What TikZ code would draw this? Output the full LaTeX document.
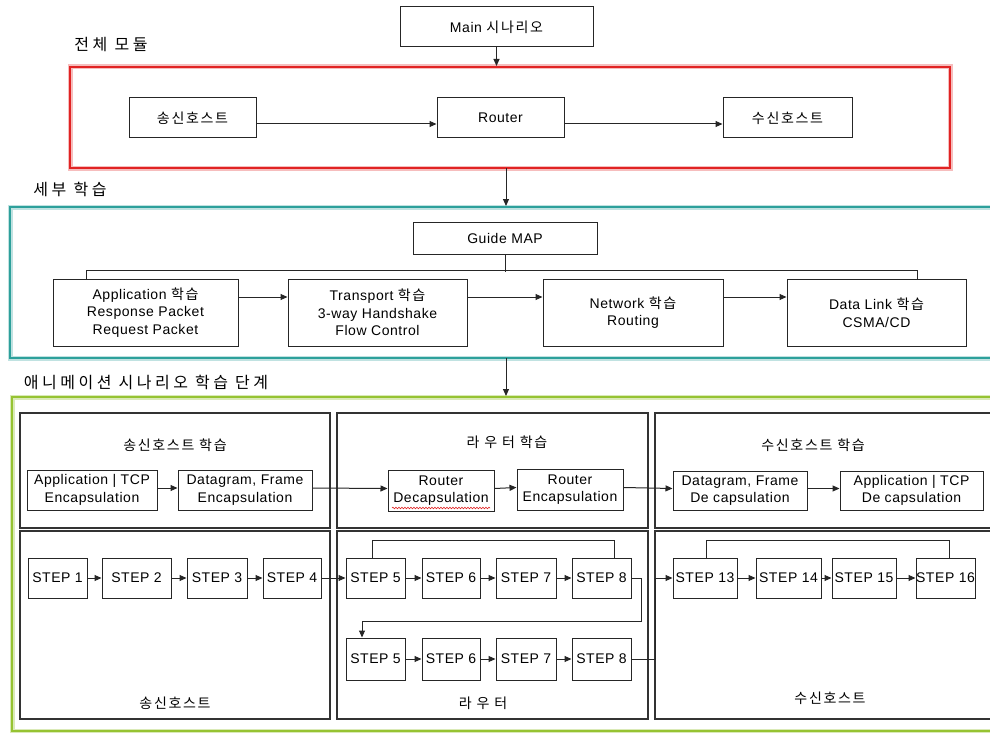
\documentclass[tikz,border=0pt]{standalone}
\usepackage{fontspec}
\setmainfont[LetterSpace=4]{Liberation Sans}
\newfontfamily\kr[LetterSpace=12]{Noto Sans CJK KR}
\newfontfamily\krwide[LetterSpace=22]{Noto Sans CJK KR}
\usetikzlibrary{arrows.meta,decorations.pathmorphing}
\definecolor{frred}{RGB}{225,35,35}
\definecolor{frteal}{RGB}{45,160,155}
\definecolor{frgreen}{RGB}{150,195,50}
\begin{document}
\begin{tikzpicture}[x=1pt,y=-1pt,
  font=\fontsize{14}{17.5}\selectfont,
  bx/.style={draw=black!85, line width=1pt, inner sep=0pt, align=center},
  panel/.style={draw=black!80, line width=1.1pt},
  conn/.style={draw=black!85, line width=1pt},
  arr/.style={conn, -{Triangle[length=7pt,width=6pt]}},
  lbl/.style={inner sep=0pt, font=\fontsize{16}{18}\selectfont\krwide},
  ttl/.style={inner sep=0pt, font=\fontsize{14}{17}\selectfont\kr}]
\useasboundingbox (0,0) rectangle (990,733);
\clip (0,0) rectangle (990,733);
\fill[white] (0,0) rectangle (990,733);

% ---------- top ----------
\node[bx, minimum width=193, minimum height=40] (main) at (496.5,27) {Main {\kr 시나리오}};
\node[lbl] (l1) at (111,45) {전체 모듈};
\draw[frred!30, line width=5pt] (70,67) rectangle (950,168);
\draw[frred, line width=2.6pt] (70,67) rectangle (950,168);
\coordinate (redtop) at (496.5,66);
\coordinate (redbot) at (506,168);
\draw[arr] (main.south) -- (redtop);

\node[bx, minimum width=127, minimum height=40] (s1) at (192.5,118) {\kr 송신호스트};
\node[bx, minimum width=127, minimum height=40] (r1) at (500.5,118) {Router};
\node[bx, minimum width=129, minimum height=40] (d1) at (787.5,118) {\kr 수신호스트};
\draw[arr] ([yshift=-6]s1.east) -- ([yshift=-6]r1.west);
\draw[arr] ([yshift=-6]r1.east) -- ([yshift=-6]d1.west);

% ---------- detail ----------
\node[lbl] (l2) at (70,189) {세부 학습};
\draw[frteal!30, line width=5pt] (10,207) rectangle (1000,358);
\draw[frteal, line width=2.6pt] (10,207) rectangle (1000,358);
\coordinate (tealtop) at (506,206);
\coordinate (tealbot) at (506,358);
\draw[arr] (redbot) -- (tealtop);

\node[bx, minimum width=184, minimum height=32] (guide) at (505,238) {Guide MAP};
\node[bx, minimum width=185, minimum height=67] (app) at (145.5,312.5) {Application {\kr 학습}\\Response Packet\\Request Packet};
\node[bx, minimum width=179, minimum height=67] (trans) at (377.5,312.5) {Transport {\kr 학습}\\3-way Handshake\\Flow Control};
\node[bx, minimum width=180, minimum height=67] (net) at (633,312.5) {Network {\kr 학습}\\Routing};
\node[bx, minimum width=179, minimum height=67] (dl) at (876.5,312.5) {Data Link {\kr 학습}\\CSMA/CD};
\draw[conn] (guide.south) -- ++(0,17);
\draw[conn] ([xshift=-59.5]app.north) -- ++(0,-8) -| ([xshift=40.5]dl.north);
\draw[arr] ([yshift=15.5]app.east) -- ([yshift=15.5]trans.west);
\draw[arr] ([yshift=15.5]trans.east) -- ([yshift=15.5]net.west);
\draw[arr] ([yshift=15.5]net.east) -- ([yshift=15.5]dl.west);

% ---------- animation ----------
\node[lbl] (l3) at (146,382) {애니메이션 시나리오 학습 단계};
\draw[frgreen!35, line width=5pt] (12,397) rectangle (1000,731);
\draw[frgreen, line width=2.6pt] (12,397) rectangle (1000,731);
\coordinate (greentop) at (506,396);
\draw[arr] (tealbot) -- (greentop);

\draw[panel] (20,413) rectangle (330,528);
\draw[panel] (337,413) rectangle (648,528);
\draw[panel] (655,413) rectangle (1000,528);
\draw[panel] (20,531) rectangle (330,719);
\draw[panel] (337,531) rectangle (648,719);
\draw[panel] (655,531) rectangle (1000,719);

\node[ttl] (t1) at (175,445) {송신호스트 학습};
\node[ttl] (t2) at (507,442) {라 우 터 학습};
\node[ttl] (t3) at (813,445) {수신호스트 학습};

\node[bx, minimum width=130, minimum height=40] (ae) at (92,490) {Application | TCP\\Encapsulation};
\node[bx, minimum width=134, minimum height=40] (de) at (245,490) {Datagram, Frame\\Encapsulation};
\node[bx, minimum width=106, minimum height=41] (rd) at (441,490.5) {Router\\Decapsulation};
\node[bx, minimum width=106, minimum height=41] (re) at (570,489.5) {Router\\Encapsulation};
\node[bx, minimum width=134, minimum height=39] (dd) at (740,490.5) {Datagram, Frame\\De capsulation};
\node[bx, minimum width=143, minimum height=39] (ad) at (911.5,490.5) {Application | TCP\\De capsulation};
\draw[frred, line width=0.6pt, decorate, decoration={snake, amplitude=0.8pt, segment length=3pt}] (392,508) -- (490,508);
\draw[arr] ([yshift=2]ae.east) -- ([yshift=2]de.west);
\draw[arr] ([yshift=2]de.east) -- ([yshift=2]rd.west);
\draw[arr] ([yshift=2]rd.east) -- ([yshift=2]re.west);
\draw[arr] ([yshift=2]re.east) -- ([yshift=2]dd.west);
\draw[arr] ([yshift=2]dd.east) -- ([yshift=2]ad.west);

% steps
\node[bx, minimum width=59, minimum height=40] (st1) at (57.5,578) {STEP 1};
\node[bx, minimum width=69, minimum height=40] (st2) at (136.5,578) {STEP 2};
\node[bx, minimum width=60, minimum height=40] (st3) at (217,578) {STEP 3};
\node[bx, minimum width=58, minimum height=40] (st4) at (292,578) {STEP 4};
\node[bx, minimum width=59, minimum height=40] (st5) at (375.5,578) {STEP 5};
\node[bx, minimum width=58, minimum height=40] (st6) at (451,578) {STEP 6};
\node[bx, minimum width=60, minimum height=40] (st7) at (526,578) {STEP 7};
\node[bx, minimum width=59, minimum height=40] (st8) at (601.5,578) {STEP 8};
\node[bx, minimum width=59, minimum height=42] (st5b) at (375.5,659) {STEP 5};
\node[bx, minimum width=58, minimum height=42] (st6b) at (451,659) {STEP 6};
\node[bx, minimum width=60, minimum height=42] (st7b) at (526,659) {STEP 7};
\node[bx, minimum width=59, minimum height=42] (st8b) at (601.5,659) {STEP 8};
\node[bx, minimum width=64, minimum height=40] (st13) at (705,578) {STEP 13};
\node[bx, minimum width=65, minimum height=40] (st14) at (788.5,578) {STEP 14};
\node[bx, minimum width=64, minimum height=40] (st15) at (864,578) {STEP 15};
\node[bx, minimum width=59, minimum height=40] (st16) at (945.5,578) {STEP 16};

\draw[arr] (st1) -- (st2);
\draw[arr] (st2) -- (st3);
\draw[arr] (st3) -- (st4);
\draw[arr] (st4) -- (st5);
\draw[arr] (st5) -- (st6);
\draw[arr] (st6) -- (st7);
\draw[arr] (st7) -- (st8);
\draw[arr] (st5b) -- (st6b);
\draw[arr] (st6b) -- (st7b);
\draw[arr] (st7b) -- (st8b);
\draw[arr] (st13) -- (st14);
\draw[arr] (st14) -- (st15);
\draw[arr] (st15) -- (st16);

\draw[conn] ([xshift=-3.5]st5.north) -- ++(0,-17) -| ([xshift=12.5]st8.north);
\draw[conn] ([xshift=1.5]st13.north) -- ++(0,-17) -| ([xshift=3.5]st16.north);
\draw[arr] (st8.east) -- ++(10,0) -- ++(0,43) -| ([xshift=-13.5]st5b.north);
\coordinate (jn) at (655,600);
\draw[arr] (st8b.east) -- (st8b.east -| jn) -- (jn |- st13.west) -- (st13.west);

\node[ttl] (b1) at (175,703) {송신호스트};
\node[ttl] (b2) at (483,703) {라 우 터};
\node[ttl] (b3) at (830,698) {수신호스트};
\end{tikzpicture}
\end{document}
